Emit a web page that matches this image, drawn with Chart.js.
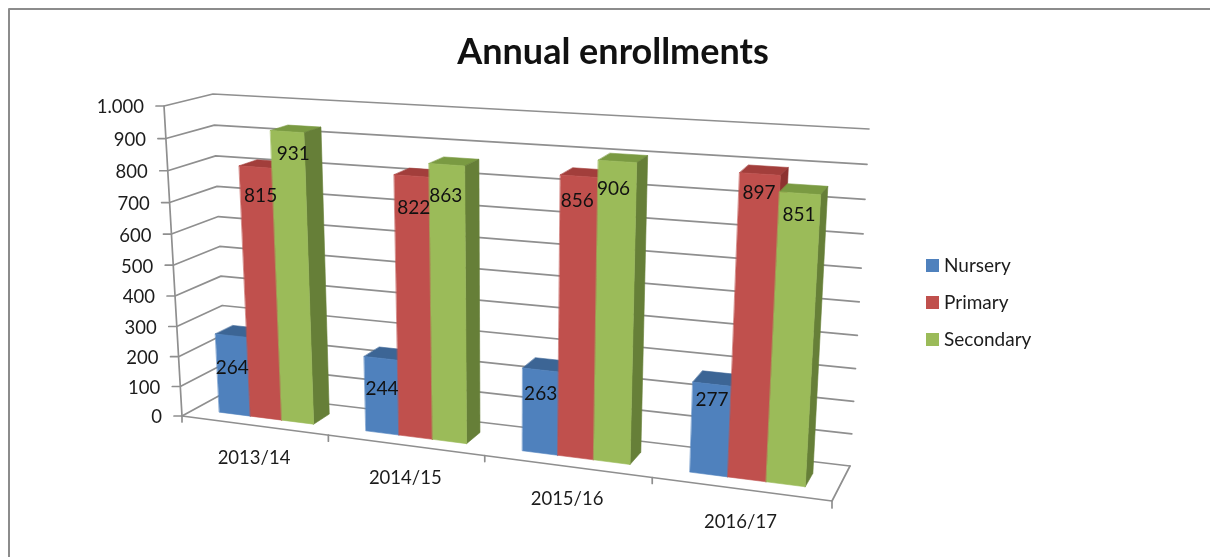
<!DOCTYPE html>
<html>
<head>
<meta charset="utf-8">
<title>Annual enrollments</title>
<script src="https://cdn.jsdelivr.net/npm/chart.js@4"></script>
<style>
  html, body { margin: 0; padding: 0; background: #fff; }
  canvas { display: block; }
</style>
</head>
<body>
<canvas id="chart" width="1210" height="557"></canvas>
<script>
const years = ['2013/14', '2014/15', '2015/16', '2016/17'];
const nursery = [264, 244, 263, 277];
const primary = [815, 822, 856, 897];
const secondary = [931, 863, 906, 851];

const FONT = 'Lato, "Open Sans", sans-serif';
const INK = '#1c1c1c';
const GRID = '#8f8f8f';

// Shades of each series: front face, top face, right side face.
const shades = {
  Nursery:   { front: '#4F81BD', top: '#3C6595', side: '#385D8A' },
  Primary:   { front: '#C0504D', top: '#A23E3B', side: '#8E3230' },
  Secondary: { front: '#9BBB59', top: '#7A9A42', side: '#667F38' }
};

// The plot box seen in perspective: its front and back planes on screen.
const frontPlane = [[182, 416], [832, 501], [853, 148], [164, 106]];
const backPlane  = [[226, 392], [850, 466], [869, 129], [213, 94]];
const BAR_FRONT = 0.29, BAR_BACK = 0.68;

// Hand placement of the value labels, per series then per year: [dx, dy].
const labelNudge = [
  [[1, -3], [1, -1], [0, -4], [0, -8]],
  [[5, -5], [2, 2], [-2, -2], [-1, -4]],
  [[6, -11], [-1, 2], [-4, 2], [-1, 0]]
];

function homography(q) {
  const [[x0, y0], [x1, y1], [x2, y2], [x3, y3]] = q;
  const dx1 = x1 - x2, dx2 = x3 - x2, sx = x0 - x1 + x2 - x3;
  const dy1 = y1 - y2, dy2 = y3 - y2, sy = y0 - y1 + y2 - y3;
  const den = dx1 * dy2 - dx2 * dy1;
  const g = (sx * dy2 - dx2 * sy) / den;
  const h = (dx1 * sy - sx * dy1) / den;
  const a = x1 - x0 + g * x1, b = x3 - x0 + h * x3;
  const d = y1 - y0 + g * y1, e = y3 - y0 + h * y3;
  return (u, v) => {
    const k = g * u + h * v + 1;
    return [(a * u + b * v + x0) / k, (d * u + e * v + y0) / k];
  };
}
const toFront = homography(frontPlane);
const toBack = homography(backPlane);

// u, v: position inside the plot area (0..1); w: depth from front to back.
function project(u, v, w) {
  const f = toFront(u, v), b = toBack(u, v);
  return [f[0] + (b[0] - f[0]) * w, f[1] + (b[1] - f[1]) * w];
}

function polyline(ctx, pts) {
  ctx.beginPath();
  pts.forEach((p, i) => i ? ctx.lineTo(p[0], p[1]) : ctx.moveTo(p[0], p[1]));
}
function face(ctx, pts, color) {
  polyline(ctx, pts);
  ctx.closePath();
  ctx.fillStyle = color;
  ctx.fill();
  ctx.strokeStyle = color;
  ctx.lineWidth = 0.6;
  ctx.stroke();
}
const thousands = n => n >= 1000 ? Math.floor(n / 1000) + '.' + String(n % 1000).padStart(3, '0') : String(n);

const perspectiveBars = {
  id: 'perspectiveBars',
  beforeDatasetsDraw(chart) {
    const { ctx, chartArea: area, scales: { x, y } } = chart;
    const U = px => (px - area.left) / (area.right - area.left);
    const V = py => (area.bottom - py) / (area.bottom - area.top);
    ctx.save();
    ctx.lineCap = 'round';
    ctx.lineJoin = 'round';

    // Frame around the chart
    ctx.strokeStyle = '#8c8c8c';
    ctx.lineWidth = 2;
    polyline(ctx, [[9, 557], [9, 9], [1210, 9]]);
    ctx.stroke();

    // Title
    ctx.fillStyle = '#111';
    ctx.font = 'bold 36px ' + FONT;
    ctx.textAlign = 'center';
    ctx.textBaseline = 'middle';
    ctx.fillText(chart.options.plugins.title.text, 613, 52);

    // Grid on the side wall and the back wall, value labels, axis ticks
    ctx.font = '18.5px ' + FONT;
    ctx.textAlign = 'right';
    ctx.lineWidth = 1.7;
    ctx.strokeStyle = GRID;
    y.ticks.forEach(t => {
      const v = V(y.getPixelForValue(t.value));
      const p = project(0, v, 0);
      polyline(ctx, [[p[0] - 8, p[1]], p, project(0, v, 1), project(1, v, 1)]);
      ctx.stroke();
      ctx.fillStyle = INK;
      ctx.fillText(thousands(t.value), p[0] - 20, p[1] + 1.5);
    });

    // Value axis, floor edges, category ticks and labels
    polyline(ctx, [project(0, 1, 0), project(0, 0, 0), project(1, 0, 0), project(1, 0, 1)]);
    ctx.stroke();
    const step = (x.getPixelForValue(1) - x.getPixelForValue(0));
    ctx.textAlign = 'center';
    years.forEach((label, i) => {
      const mid = x.getPixelForValue(i);
      const a = project(U(mid - step / 2), 0, 0);
      polyline(ctx, [a, [a[0], a[1] + 6]]);
      ctx.stroke();
      const c = project(U(mid), 0, 0);
      ctx.fillStyle = INK;
      ctx.fillText(label, c[0], c[1] + 33);
    });
    const end = project(1, 0, 0);
    polyline(ctx, [end, [end[0], end[1] + 7]]);
    ctx.stroke();

    // Bars, left to right so that nearer faces overlap correctly
    const labels = [];
    years.forEach((_, i) => {
      chart.data.datasets.forEach((ds, s) => {
        const bar = chart.getDatasetMeta(s).data[i];
        const c = shades[ds.label];
        const u0 = U(bar.x - bar.width / 2), u1 = U(bar.x + bar.width / 2);
        const top = V(bar.y), base = V(bar.base);
        face(ctx, [project(u0, top, BAR_FRONT), project(u1, top, BAR_FRONT),
                   project(u1, top, BAR_BACK), project(u0, top, BAR_BACK)], c.top);
        face(ctx, [project(u1, base, BAR_FRONT), project(u1, base, BAR_BACK),
                   project(u1, top, BAR_BACK), project(u1, top, BAR_FRONT)], c.side);
        face(ctx, [project(u0, base, BAR_FRONT), project(u1, base, BAR_FRONT),
                   project(u1, top, BAR_FRONT), project(u0, top, BAR_FRONT)], c.front);
        const uc = (u0 + u1) / 2;
        const anchor = project(uc, top, BAR_FRONT);
        const [dx, dy] = labelNudge[s][i];
        labels.push([ds.data[i], anchor[0] + dx, anchor[1] + 36 - 15 * uc + dy]);
      });
    });

    // Value labels sit above every bar
    ctx.fillStyle = '#111';
    ctx.font = '19px ' + FONT;
    labels.forEach(([value, lx, ly]) => ctx.fillText(value, lx, ly));

    // Legend
    ctx.textAlign = 'left';
    chart.data.datasets.forEach((ds, s) => {
      const rowY = 265 + s * 37;
      ctx.fillStyle = ds.backgroundColor;
      ctx.fillRect(926, rowY - 6, 13, 13);
      ctx.fillStyle = INK;
      ctx.fillText(ds.label, 944, rowY + 1);
    });

    ctx.restore();
    return false;
  }
};

new Chart(document.getElementById('chart'), {
  type: 'bar',
  data: {
    labels: years,
    datasets: [
      { label: 'Nursery', data: nursery, backgroundColor: shades.Nursery.front },
      { label: 'Primary', data: primary, backgroundColor: shades.Primary.front },
      { label: 'Secondary', data: secondary, backgroundColor: shades.Secondary.front }
    ]
  },
  options: {
    responsive: false,
    animation: false,
    layout: { padding: { left: 182, top: 106, right: 360, bottom: 91 } },
    datasets: { bar: { barPercentage: 1, categoryPercentage: 0.65 } },
    scales: {
      x: { display: false },
      y: { display: false, min: 0, max: 1000, ticks: { stepSize: 100 } }
    },
    plugins: {
      title: { display: false, text: 'Annual enrollments' },
      legend: { display: false },
      tooltip: { enabled: false }
    }
  },
  plugins: [perspectiveBars]
});
</script>
</body>
</html>
